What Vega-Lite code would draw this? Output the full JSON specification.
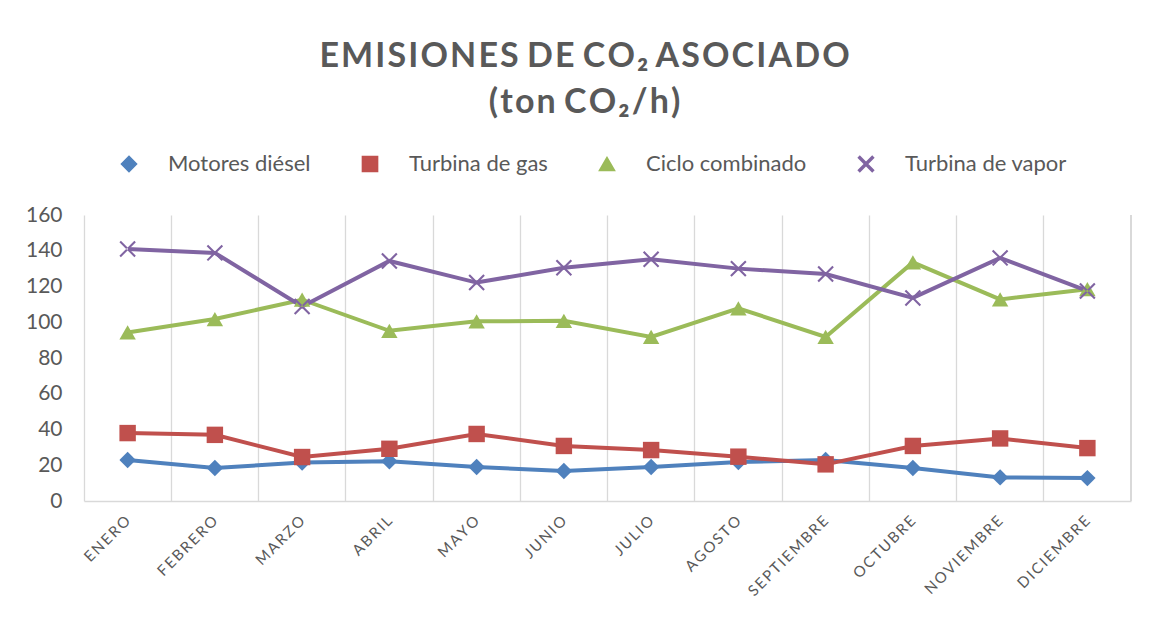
{
  "$schema": "https://vega.github.io/schema/vega-lite/v6.json",
  "autosize": "none",
  "width": 1047,
  "height": 286,
  "padding": {"left": 84, "top": 215, "right": 22, "bottom": 131},
  "background": "white",
  "config": {
    "view": {"stroke": null},
    "font": "Lato"
  },
  "title": {
    "text": ["E\u200aM\u200aI\u200aS\u200aI\u200aO\u200aN\u200aE\u200aS D\u200aE C\u200aO\u200a₂ A\u200aS\u200aO\u200aC\u200aI\u200aA\u200aD\u200aO", "(\u200at\u200ao\u200an C\u200aO\u200a₂\u200a/\u200ah\u200a)"],
    "font": "Lato",
    "fontSize": 34,
    "fontWeight": "bold",
    "color": "#595959",
    "anchor": "middle",
    "dx": -23,
    "lineHeight": 46,
    "offset": 33
  },
  "data": {
    "values": [
      {"mes": "ENERO", "serie": "Motores diésel", "valor": 22.9},
      {"mes": "FEBRERO", "serie": "Motores diésel", "valor": 18.5},
      {"mes": "MARZO", "serie": "Motores diésel", "valor": 21.5},
      {"mes": "ABRIL", "serie": "Motores diésel", "valor": 22.2},
      {"mes": "MAYO", "serie": "Motores diésel", "valor": 19.0},
      {"mes": "JUNIO", "serie": "Motores diésel", "valor": 16.8},
      {"mes": "JULIO", "serie": "Motores diésel", "valor": 19.0},
      {"mes": "AGOSTO", "serie": "Motores diésel", "valor": 21.8},
      {"mes": "SEPTIEMBRE", "serie": "Motores diésel", "valor": 23.0},
      {"mes": "OCTUBRE", "serie": "Motores diésel", "valor": 18.5},
      {"mes": "NOVIEMBRE", "serie": "Motores diésel", "valor": 13.2},
      {"mes": "DICIEMBRE", "serie": "Motores diésel", "valor": 12.8},
      {"mes": "ENERO", "serie": "Turbina de gas", "valor": 38.0},
      {"mes": "FEBRERO", "serie": "Turbina de gas", "valor": 37.0},
      {"mes": "MARZO", "serie": "Turbina de gas", "valor": 24.6},
      {"mes": "ABRIL", "serie": "Turbina de gas", "valor": 29.2},
      {"mes": "MAYO", "serie": "Turbina de gas", "valor": 37.5},
      {"mes": "JUNIO", "serie": "Turbina de gas", "valor": 30.8},
      {"mes": "JULIO", "serie": "Turbina de gas", "valor": 28.5},
      {"mes": "AGOSTO", "serie": "Turbina de gas", "valor": 24.8},
      {"mes": "SEPTIEMBRE", "serie": "Turbina de gas", "valor": 20.5},
      {"mes": "OCTUBRE", "serie": "Turbina de gas", "valor": 30.8},
      {"mes": "NOVIEMBRE", "serie": "Turbina de gas", "valor": 35.0},
      {"mes": "DICIEMBRE", "serie": "Turbina de gas", "valor": 29.6},
      {"mes": "ENERO", "serie": "Ciclo combinado", "valor": 94.3},
      {"mes": "FEBRERO", "serie": "Ciclo combinado", "valor": 101.8},
      {"mes": "MARZO", "serie": "Ciclo combinado", "valor": 112.6},
      {"mes": "ABRIL", "serie": "Ciclo combinado", "valor": 95.2},
      {"mes": "MAYO", "serie": "Ciclo combinado", "valor": 100.5},
      {"mes": "JUNIO", "serie": "Ciclo combinado", "valor": 100.8},
      {"mes": "JULIO", "serie": "Ciclo combinado", "valor": 91.8},
      {"mes": "AGOSTO", "serie": "Ciclo combinado", "valor": 107.8},
      {"mes": "SEPTIEMBRE", "serie": "Ciclo combinado", "valor": 91.8},
      {"mes": "OCTUBRE", "serie": "Ciclo combinado", "valor": 133.5},
      {"mes": "NOVIEMBRE", "serie": "Ciclo combinado", "valor": 112.8},
      {"mes": "DICIEMBRE", "serie": "Ciclo combinado", "valor": 118.5},
      {"mes": "ENERO", "serie": "Turbina de vapor", "valor": 141.0},
      {"mes": "FEBRERO", "serie": "Turbina de vapor", "valor": 138.8},
      {"mes": "MARZO", "serie": "Turbina de vapor", "valor": 108.8},
      {"mes": "ABRIL", "serie": "Turbina de vapor", "valor": 134.3},
      {"mes": "MAYO", "serie": "Turbina de vapor", "valor": 122.2},
      {"mes": "JUNIO", "serie": "Turbina de vapor", "valor": 130.5},
      {"mes": "JULIO", "serie": "Turbina de vapor", "valor": 135.2},
      {"mes": "AGOSTO", "serie": "Turbina de vapor", "valor": 130.0},
      {"mes": "SEPTIEMBRE", "serie": "Turbina de vapor", "valor": 127.0},
      {"mes": "OCTUBRE", "serie": "Turbina de vapor", "valor": 113.6},
      {"mes": "NOVIEMBRE", "serie": "Turbina de vapor", "valor": 136.0},
      {"mes": "DICIEMBRE", "serie": "Turbina de vapor", "valor": 117.5}
    ]
  },
  "encoding": {
    "x": {
      "field": "mes",
      "type": "nominal",
      "sort": ["ENERO","FEBRERO","MARZO","ABRIL","MAYO","JUNIO","JULIO","AGOSTO","SEPTIEMBRE","OCTUBRE","NOVIEMBRE","DICIEMBRE"],
      "scale": {"paddingInner": 0, "paddingOuter": 0},
      "axis": {
        "title": null,
        "bandPosition": 0,
        "grid": true,
        "gridColor": "#d9d9d9",
        "gridWidth": 1.3,
        "ticks": false,
        "domainColor": "#d9d9d9",
        "domainWidth": 1.5,
        "labelAngle": -45,
        "labelAlign": "right",
        "labelBaseline": "middle",
        "labelPadding": 17,
        "labelFont": "Lato",
        "labelFontSize": 15,
        "labelColor": "#595959",
        "labelExpr": "join(split(datum.label, ''), '\u2009')"
      }
    },
    "y": {
      "field": "valor",
      "type": "quantitative",
      "scale": {"domain": [0, 160], "nice": false},
      "axis": {
        "title": null,
        "values": [0,20,40,60,80,100,120,140,160],
        "grid": false,
        "ticks": false,
        "domain": false,
        "labelPadding": 22,
        "labelFont": "Lato",
        "labelFontSize": 21,
        "labelColor": "#595959"
      }
    }
  },
  "layer": [
    {
      "mark": {"type": "rule", "color": "#d9d9d9", "strokeWidth": 1.3},
      "encoding": {
        "x": {"datum": "DICIEMBRE", "bandPosition": 1},
        "y": null
      }
    },
    {
      "mark": {"type": "line", "strokeWidth": 4},
      "encoding": {
        "color": {
          "field": "serie",
          "type": "nominal",
          "scale": {
            "domain": ["Motores diésel", "Turbina de gas", "Ciclo combinado", "Turbina de vapor"],
            "range": ["#4f81bd", "#c0504d", "#9bbb59", "#8064a2"]
          }
        }
      }
    },
    {
      "mark": {"type": "point", "filled": true, "opacity": 1, "size": 270},
      "encoding": {
        "color": {
          "field": "serie",
          "type": "nominal",
          "scale": {
            "domain": ["Motores diésel", "Turbina de gas", "Ciclo combinado", "Turbina de vapor"],
            "range": ["#4f81bd", "#c0504d", "#9bbb59", "#8064a2"]
          },
          "legend": {
            "title": null,
            "orient": "none",
            "direction": "horizontal",
            "legendX": 34,
            "legendY": -62,
            "symbolSize": 230,
            "symbolOpacity": 1,
            "labelFont": "Lato",
            "labelFontSize": 22,
            "labelLimit": 400,
            "labelColor": "#595959",
            "labelOffset": 28,
            "columnPadding": 48
          }
        },
        "shape": {
          "field": "serie",
          "type": "nominal",
          "scale": {
            "domain": ["Motores diésel", "Turbina de gas", "Ciclo combinado", "Turbina de vapor"],
            "range": ["diamond", "square", "triangle-up", "M-1,-0.82L-0.82,-1L1,0.82L0.82,1Z M1,-0.82L0.82,-1L-1,0.82L-0.82,1Z"]
          },
          "legend": null
        }
      }
    }
  ]
}
